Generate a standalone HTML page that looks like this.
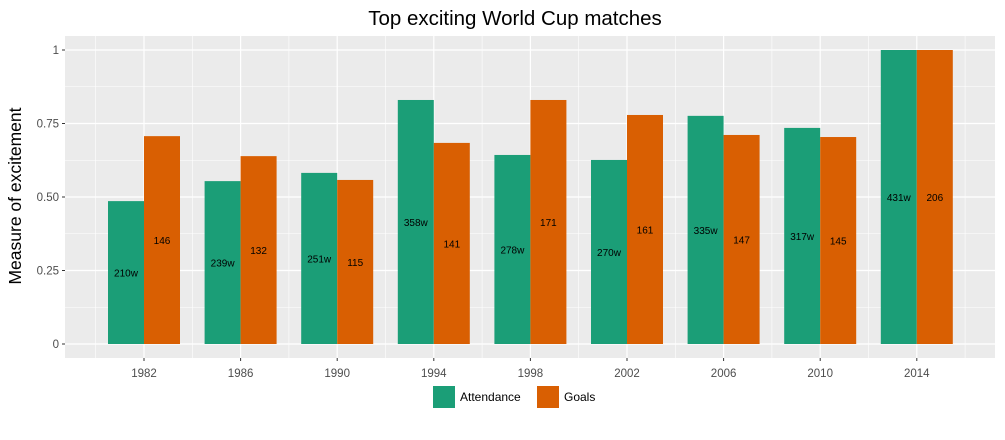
<!DOCTYPE html>
<html><head><meta charset="utf-8"><style>
body{margin:0;background:#fff;font-family:"Liberation Sans",sans-serif}
</style></head><body>
<svg id="c" width="1005" height="435" xmlns="http://www.w3.org/2000/svg">
<text x="515" y="25" text-anchor="middle" font-size="20.5" fill="#000">Top exciting World Cup matches</text>
<rect x="65" y="36" width="930" height="322" fill="#ebebeb"/>
<g id="grid"></g><g id="bars"></g><g id="axes"></g>
<text transform="translate(21,196) rotate(-90)" text-anchor="middle" font-size="17.5" fill="#000">Measure of excitement</text>
<g>
<rect x="433" y="386" width="22" height="22" fill="#1b9e77"/>
<text x="460" y="401" font-size="12">Attendance</text>
<rect x="537" y="386" width="22" height="22" fill="#d95f02"/>
<text x="564" y="401" font-size="12">Goals</text>
</g>
</svg>
<script>
const years=["1982","1986","1990","1994","1998","2002","2006","2010","2014"];
const attendance=[0.486,0.554,0.582,0.830,0.643,0.626,0.776,0.735,1.0];
const goals=[0.707,0.639,0.558,0.684,0.830,0.779,0.711,0.704,1.0];
const attLabels=["210w","239w","251w","358w","278w","270w","335w","317w","431w"];
const goalLabels=["146","132","115","141","171","161","147","145","206"];
const yTicks=[0,0.25,0.5,0.75,1];
const yTickLabels=["0","0.25","0.50","0.75","1"];
const NS="http://www.w3.org/2000/svg";
const x=i=>144+i*96.6;
const y=v=>344-v*294;
function mk(t,a,p){const e=document.createElementNS(NS,t);for(const k in a)e.setAttribute(k,a[k]);p.appendChild(e);return e;}
const grid=document.getElementById('grid'),bars=document.getElementById('bars'),axes=document.getElementById('axes');
for(let k=0;k<yTicks.length-1;k++){const v=(yTicks[k]+yTicks[k+1])/2;
 const l=mk('line',{x1:65,x2:995,y1:y(v),y2:y(v),stroke:'#fff','stroke-width':0.6},grid);
 }
for(let i=0;i<=years.length;i++){const l=mk('line',{x1:x(i-0.5),x2:x(i-0.5),y1:36,y2:358,stroke:'#fff','stroke-width':0.6},grid);
 }
yTicks.forEach((v,k)=>{const l=mk('line',{x1:65,x2:995,y1:y(v),y2:y(v),stroke:'#fff','stroke-width':1.2},grid);
 
 const t=mk('text',{x:59,y:y(v)+4,'text-anchor':'end','font-size':11.5,fill:'#4d4d4d'},axes);t.textContent=yTickLabels[k];
 
 const tk=mk('line',{x1:62,x2:65,y1:y(v),y2:y(v),stroke:'#333'},axes);
 });
years.forEach((yr,i)=>{const l=mk('line',{x1:x(i),x2:x(i),y1:36,y2:358,stroke:'#fff','stroke-width':1.2},grid);
 
 const t=mk('text',{x:x(i),y:377,'text-anchor':'middle','font-size':11.5,fill:'#4d4d4d'},axes);t.textContent=yr;
 
 const tk=mk('line',{x1:x(i),x2:x(i),y1:358,y2:361,stroke:'#333'},axes);
 
 const a=mk('rect',{x:x(i)-36,y:y(attendance[i]),width:36,height:y(0)-y(attendance[i]),fill:'#1b9e77'},bars);
 
 const g=mk('rect',{x:x(i),y:y(goals[i]),width:36,height:y(0)-y(goals[i]),fill:'#d95f02'},bars);
 
 const at=mk('text',{x:x(i)-18,y:y(attendance[i]/2)+4,'text-anchor':'middle','font-size':10,fill:'#000'},bars);at.textContent=attLabels[i];
 
 const gt=mk('text',{x:x(i)+18,y:y(goals[i]/2)+4,'text-anchor':'middle','font-size':10,fill:'#000'},bars);gt.textContent=goalLabels[i];
 });
</script>
</body></html>
